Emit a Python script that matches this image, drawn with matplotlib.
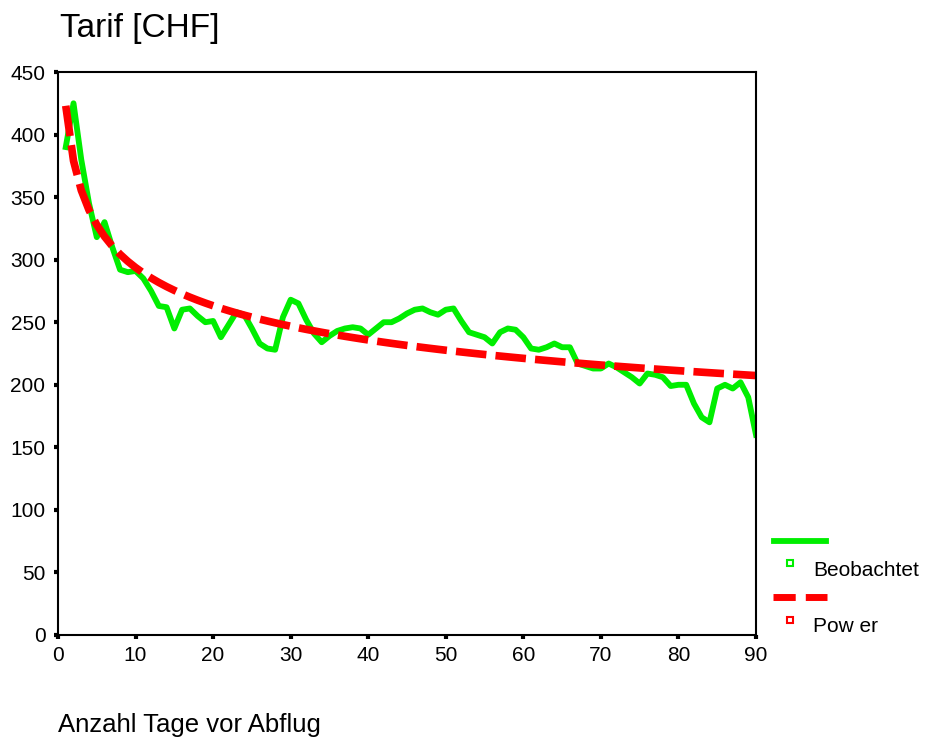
import numpy as np
from matplotlib import pyplot as plt
from matplotlib.lines import Line2D

# observed fares per day before departure
tage = list(range(1, 91))
beobachtet = [390, 425, 380, 345, 318, 330, 310, 292, 290, 291,
              285, 275, 263, 262, 245, 260, 261, 255, 250, 251,
              238, 248, 258, 256, 245, 233, 229, 228, 254, 268,
              265, 252, 241, 234, 239, 243, 245, 246, 245, 240,
              245, 250, 250, 253, 257, 260, 261, 258, 256, 260,
              261, 251, 242, 240, 238, 233, 242, 245, 244, 238,
              229, 228, 230, 233, 230, 230, 217, 215, 213, 213,
              217, 214, 210, 206, 201, 209, 208, 206, 199, 200,
              200, 185, 174, 170, 197, 200, 197, 202, 190, 160]

xticks = [0, 10, 20, 30, 40, 50, 60, 70, 80, 90]
yticks = [0, 50, 100, 150, 200, 250, 300, 350, 400, 450]

gruen = "#00ee00"
rot = "#ff0000"

plt.rcParams['font.family'] = ['Liberation Sans', 'DejaVu Sans']

# power model y = a * x^b, fitted in log-log space like the curve estimation
x = np.array(tage, dtype=float)
y = np.array(beobachtet, dtype=float)
b, loga = np.polyfit(np.log(x), np.log(y), 1)
power = np.exp(loga) * x ** b

fig = plt.figure(figsize=(9.28, 7.42), dpi=100)
ax = fig.add_axes([58/928, 1-635/742, (756-58)/928, (635-72)/742])

ax.plot(x, y, color=gruen, lw=4.2, solid_joinstyle='round')
ax.plot(x, power, color=rot, lw=5.5, linestyle=(0, (4, 1.2)))

ax.set_xlim(0, 90)
ax.set_ylim(0, 450)
ax.set_xticks(xticks)
ax.set_yticks(yticks)
ax.tick_params(direction='out', length=3, width=3, labelsize=15, color='black')
ax.tick_params(axis='x', pad=5)
ax.tick_params(axis='y', pad=6)
for s in ax.spines.values():
    s.set_linewidth(1.5)
    s.set_color('black')

fig.text(60/928, 1-28/742, "Tarif [CHF]", fontsize=24, va='center', ha='left')
fig.text(58/928, 1-725/742, "Anzahl Tage vor Abflug", fontsize=18.5, va='center', ha='left')

# legend drawn by hand: line sample above, small square + label below
fig.add_artist(Line2D([774/928, 826/928], [1-541/742]*2, color=gruen, lw=4.2))
fig.add_artist(Line2D([790/928], [1-563/742], marker='s', ms=5, mfc='white',
                      mec=gruen, mew=1.5, lw=0))
fig.text(813/928, 1-571/742, "Beobachtet", fontsize=15, va='center', ha='left')
fig.add_artist(Line2D([773/928, 827/928], [1-597/742]*2, color=rot, lw=5,
                      linestyle=(0, (3.2, 1.45)), solid_capstyle='butt',
                      dash_capstyle='butt'))
fig.add_artist(Line2D([790/928], [1-620/742], marker='s', ms=5, mfc='white',
                      mec=rot, mew=1.5, lw=0))
fig.text(813/928, 1-626/742, "Pow er", fontsize=15, va='center', ha='left')

plt.savefig("out.png", dpi=100)
